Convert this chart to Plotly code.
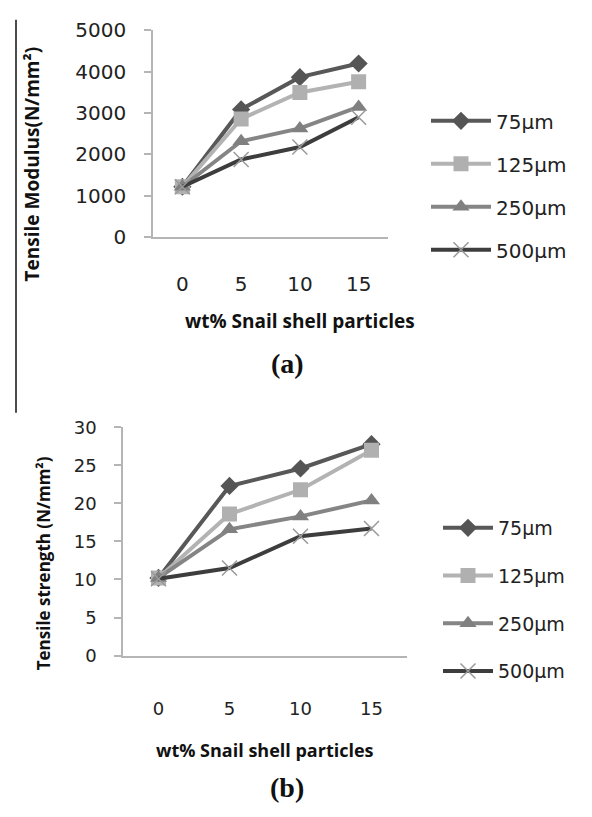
import plotly.graph_objects as go

W, H = 592, 817

# ---- data ----
categories = ["0", "5", "10", "15"]
series_names = ["75\u00b5m", "125\u00b5m", "250\u00b5m", "500\u00b5m"]
modulus_75 = [1220, 3090, 3870, 4200]
modulus_125 = [1220, 2860, 3500, 3760]
modulus_250 = [1220, 2320, 2630, 3150]
modulus_500 = [1220, 1880, 2180, 2900]
strength_75 = [10.2, 22.3, 24.6, 27.8]
strength_125 = [10.2, 18.6, 21.8, 27.0]
strength_250 = [10.2, 16.6, 18.3, 20.4]
strength_500 = [10.1, 11.5, 15.7, 16.7]
modulus_ticks = [0, 1000, 2000, 3000, 4000, 5000]
strength_ticks = [0, 5, 10, 15, 20, 25, 30]

styles = [
    dict(line=dict(color="#585858", width=4), marker=dict(symbol="diamond", size=14, color="#555555")),
    dict(line=dict(color="#b3b3b3", width=4), marker=dict(symbol="square", size=15, color="#b0b0b0")),
    dict(line=dict(color="#858585", width=4), marker=dict(symbol="triangle-up", size=15, color="#808080")),
    dict(line=dict(color="#3d3d3d", width=4), marker=dict(symbol="x-thin", size=15, color="#9a9a9a",
                                                           line=dict(color="#9a9a9a", width=1.5))),
]

fig = go.Figure()
for name, vals, st in zip(series_names, [modulus_75, modulus_125, modulus_250, modulus_500], styles):
    fig.add_trace(go.Scatter(x=categories, y=vals, name=name, mode="lines+markers",
                             xaxis="x", yaxis="y", legend="legend", legendgroup="a" + name, **st))
for name, vals, st in zip(series_names, [strength_75, strength_125, strength_250, strength_500], styles):
    fig.add_trace(go.Scatter(x=categories, y=vals, name=name, mode="lines+markers",
                             xaxis="x2", yaxis="y2", legend="legend2", legendgroup="b" + name, **st))

def px_x(v):
    return v / W

def px_y(v):
    return 1 - v / H

axis_col = "#b5b5b5"
tick_font = dict(family="DejaVu Sans", size=20, color="#222222")
tick_font2 = dict(family="DejaVu Sans", size=18, color="#222222")

fig.update_layout(
    width=W, height=H,
    margin=dict(l=0, r=0, t=0, b=0),
    paper_bgcolor="white", plot_bgcolor="white",
    xaxis=dict(domain=[px_x(153), px_x(388)], type="category", range=[-0.5, 3.5],
               showline=True, linecolor=axis_col, linewidth=1.5, showgrid=False, zeroline=False,
               ticks="", tickfont=tick_font, ticklabelstandoff=28, anchor="y"),
    yaxis=dict(domain=[px_y(232), px_y(19)], range=[0, 5000], tickvals=modulus_ticks,
               showline=True, linecolor=axis_col, linewidth=1.5, showgrid=False, zeroline=False,
               ticks="outside", ticklen=7, tickcolor=axis_col, tickwidth=1.5,
               tickfont=tick_font, ticklabelstandoff=14, anchor="x"),
    xaxis2=dict(domain=[px_x(123), px_x(407)], type="category", range=[-0.5, 3.5],
                showline=True, linecolor=axis_col, linewidth=1.5, showgrid=False, zeroline=False,
                ticks="", tickfont=tick_font2, ticklabelstandoff=36, anchor="y2"),
    yaxis2=dict(domain=[px_y(663), px_y(428)], range=[0, 30], tickvals=strength_ticks,
                showline=True, linecolor=axis_col, linewidth=1.5, showgrid=False, zeroline=False,
                ticks="outside", ticklen=7, tickcolor=axis_col, tickwidth=1.5,
                tickfont=tick_font2, ticklabelstandoff=14, anchor="x2"),
    legend=dict(x=px_x(426), y=px_y(92), xanchor="left", yanchor="top",
                font=dict(family="DejaVu Sans", size=20, color="#222222"),
                bgcolor="rgba(0,0,0,0)", itemwidth=60, tracegroupgap=14, traceorder="grouped"),
    legend2=dict(x=px_x(438), y=px_y(512), xanchor="left", yanchor="top",
                 font=dict(family="DejaVu Sans", size=19, color="#222222"),
                 bgcolor="rgba(0,0,0,0)", itemwidth=50, tracegroupgap=20, traceorder="grouped"),
    showlegend=True,
)

def add_text(text, x, y, font, angle=0):
    fig.add_annotation(text=text, x=px_x(x), y=px_y(y), xref="paper", yref="paper",
                       xanchor="center", yanchor="middle", textangle=angle, showarrow=False, font=font)

add_text("Tensile Modulus(N/mm\u00b2)", 32, 157,
         dict(family="Open Sans", size=19, color="#111111", weight="bold"), -90)
add_text("wt% Snail shell particles", 300, 318,
         dict(family="Open Sans", size=19, color="#111111", weight="bold"))
add_text("(a)", 287, 362, dict(family="Liberation Serif", size=28, color="#111111", weight="bold"))
add_text("Tensile strength (N/mm\u00b2)", 43, 568,
         dict(family="Open Sans", size=17, color="#111111", weight="bold"), -90)
add_text("wt% Snail shell particles", 265, 760,
         dict(family="Open Sans", size=18, color="#111111", weight="bold"))
add_text("(b)", 287, 799, dict(family="Liberation Serif", size=28, color="#111111", weight="bold"))

fig.add_shape(type="line", xref="paper", yref="paper", x0=px_x(16), x1=px_x(16), y0=px_y(8), y1=px_y(413),
              line=dict(color="#111111", width=1.5))

fig.write_html("out.html", config={"displayModeBar": False},
               post_script="document.body.style.margin='0';document.body.style.overflow='hidden';")
